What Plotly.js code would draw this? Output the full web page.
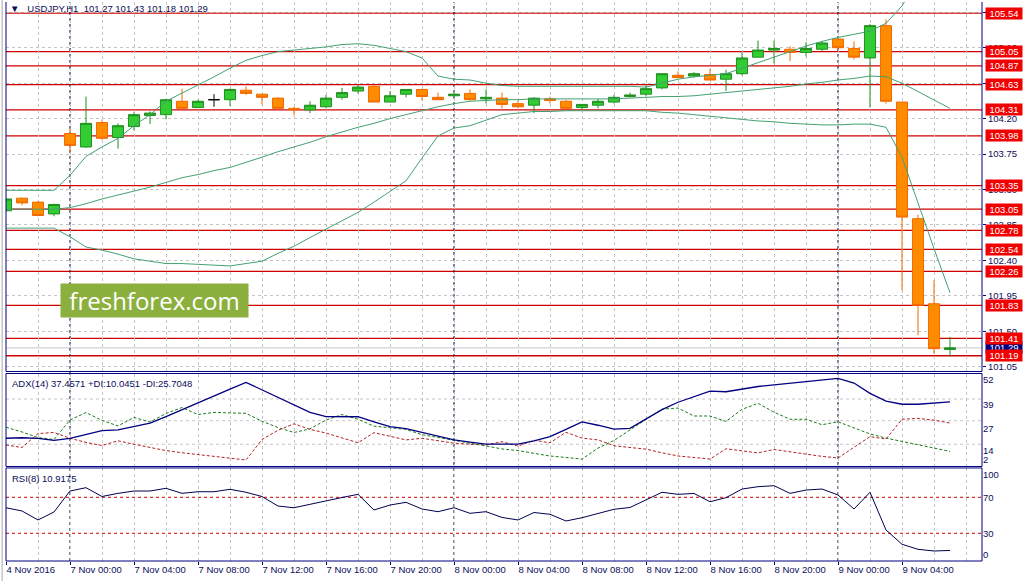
<!DOCTYPE html>
<html><head><meta charset="utf-8">
<script src="https://cdn.plot.ly/plotly-3.0.1.min.js"></script>
<style>html,body{margin:0;padding:0;background:#fff}#chart{width:1025px;height:581px}</style>
</head><body><div id="chart"></div>
<script>
// ---------- data ----------
const symbol = 'USDJPY,H1';
const tickIndex = [0,4,8,12,16,20,24,28,32,36,40,44,48,52,56];
const tickLabels = ['4 Nov 2016','7 Nov 00:00','7 Nov 04:00','7 Nov 08:00','7 Nov 12:00','7 Nov 16:00','7 Nov 20:00',
  '8 Nov 00:00','8 Nov 04:00','8 Nov 08:00','8 Nov 12:00','8 Nov 16:00','8 Nov 20:00','9 Nov 00:00','9 Nov 04:00'];
const daySeparators = [4, 28, 52];

const open = [103.03,103.19,103.14,102.99,104.01,103.84,104.15,103.96,104.10,104.24,
  104.25,104.42,104.34,104.44,104.44,104.56,104.51,104.46,104.33,104.31,
  104.35,104.47,104.55,104.61,104.41,104.51,104.57,104.47,104.49,104.52,
  104.45,104.46,104.39,104.37,104.45,104.42,104.34,104.37,104.41,104.48,
  104.51,104.59,104.75,104.74,104.76,104.70,104.77,104.98,105.07,105.08,
  105.04,105.08,105.21,105.09,104.97,105.38,104.41,102.93,101.85,101.27];
const high = [103.19,103.20,103.15,103.12,104.07,104.48,104.19,104.14,104.28,104.29,
  104.44,104.58,104.44,104.51,104.58,104.61,104.51,104.47,104.35,104.42,
  104.50,104.59,104.63,104.63,104.55,104.57,104.57,104.53,104.52,104.57,
  104.57,104.53,104.43,104.47,104.48,104.44,104.38,104.45,104.50,104.53,
  104.63,104.77,104.80,104.79,104.83,104.82,105.04,105.19,105.19,105.12,
  105.17,105.18,105.21,105.18,105.40,105.46,104.41,102.98,102.15,101.43];
const low = [103.02,103.10,102.96,102.96,103.77,103.83,103.93,103.82,104.05,104.13,
  104.19,104.33,104.34,104.35,104.36,104.50,104.38,104.31,104.24,104.27,
  104.33,104.44,104.52,104.41,104.41,104.47,104.43,104.44,104.49,104.43,
  104.39,104.33,104.33,104.27,104.39,104.31,104.32,104.33,104.39,104.47,
  104.48,104.57,104.71,104.72,104.69,104.55,104.75,104.98,104.90,104.93,
  104.99,105.06,105.07,104.95,104.34,104.39,102.02,101.45,101.21,101.18];
const close = [103.18,103.13,102.97,103.11,103.86,104.14,103.95,104.11,104.25,104.27,
  104.44,104.33,104.42,104.44,104.57,104.52,104.47,104.33,104.31,104.37,
  104.46,104.53,104.60,104.41,104.49,104.57,104.48,104.44,104.51,104.44,
  104.47,104.38,104.35,104.46,104.43,104.33,104.38,104.42,104.47,104.50,
  104.58,104.77,104.72,104.77,104.69,104.77,104.97,105.07,105.09,105.04,
  105.09,105.16,105.10,104.98,105.38,104.42,102.95,101.83,101.28,101.29];

const bbUpper = [103.29,103.29,103.29,103.29,103.48,103.72,103.84,103.95,104.11,104.25,
  104.42,104.52,104.63,104.73,104.84,104.94,105.00,105.05,105.07,105.09,
  105.11,105.14,105.15,105.13,105.09,105.05,104.97,104.74,104.70,104.69,
  104.65,104.62,104.61,104.61,104.61,104.61,104.61,104.61,104.61,104.61,
  104.60,104.65,104.70,104.73,104.75,104.77,104.84,104.91,104.98,105.05,
  105.12,105.18,105.23,105.27,105.31,105.41,105.63,105.96,106.33,106.67];
const bbMiddle = [103.05,103.05,103.05,103.05,103.07,103.12,103.18,103.23,103.28,103.33,
  103.39,103.45,103.49,103.54,103.58,103.64,103.71,103.78,103.84,103.90,
  103.97,104.03,104.09,104.14,104.20,104.25,104.30,104.35,104.39,104.42,
  104.43,104.44,104.44,104.45,104.45,104.45,104.45,104.45,104.45,104.46,
  104.47,104.48,104.48,104.49,104.51,104.53,104.55,104.57,104.59,104.61,
  104.64,104.66,104.69,104.71,104.74,104.73,104.65,104.54,104.44,104.33];
const bbLower = [102.81,102.81,102.81,102.81,102.70,102.57,102.53,102.48,102.42,102.39,
  102.36,102.36,102.35,102.34,102.33,102.36,102.39,102.49,102.58,102.69,
  102.80,102.90,103.01,103.14,103.27,103.41,103.70,103.98,104.08,104.11,
  104.18,104.25,104.27,104.29,104.29,104.30,104.30,104.30,104.30,104.30,
  104.30,104.28,104.27,104.25,104.23,104.21,104.19,104.17,104.16,104.14,
  104.13,104.12,104.12,104.13,104.13,104.09,103.71,103.12,102.55,101.99];

const adx = [17.3,17.6,17.2,16.1,17.3,19.4,21.5,21.9,23.8,25.7,
  29.3,33.2,37.1,40.6,44.5,48.2,44.1,39.9,35.7,31.6,
  29.3,29.2,29.2,26.4,23.7,22.6,20.5,18.5,16.4,15.2,
  14.1,14.1,14.1,15.9,18.2,22.2,26.3,24.5,22.4,22.8,
  27.9,33.1,37.2,40.4,43.3,43.0,44.5,45.9,46.8,47.6,
  48.4,49.4,50.4,47.8,42.1,37.8,36.1,36.1,36.8,37.4571];
const plusDI = [23.4,20.8,17.7,16.6,27.4,31.5,27.2,24.1,28.8,26.3,
  31.0,34.3,30.4,31.6,31.3,31.1,26.7,23.2,20.5,22.5,
  27.4,30.4,27.8,24.0,23.1,22.2,19.3,17.6,16.1,14.6,
  13.1,11.4,10.5,9.0,7.5,6.7,5.8,11.9,16.1,21.9,
  27.9,33.4,34.0,29.6,29.6,26.6,33.3,36.6,31.7,27.8,
  27.8,24.8,26.4,23.2,19.7,17.4,15.5,13.6,11.6,10.0451];
const minusDI = [13.6,12.2,19.9,20.5,17.3,15.0,13.3,15.9,14.0,12.2,
  10.5,9.3,8.2,7.2,6.2,5.3,16.6,21.7,25.3,22.2,
  20.2,17.4,14.8,20.4,18.2,16.4,17.3,15.8,14.6,14.0,
  13.6,15.4,13.0,16.2,14.8,20.6,17.4,16.4,13.2,12.2,
  11.3,9.3,7.5,6.7,5.8,11.5,10.3,9.2,11.1,9.7,
  8.6,7.3,6.4,12.1,18.2,16.9,27.8,28.3,27.3,25.7048];
const rsi = [58.4,54.8,44.8,53.7,77.0,80.7,70.9,74.4,77.0,77.0,
  80.0,74.4,76.2,76.2,78.9,75.6,70.9,60.3,58.4,62.2,
  66.7,69.8,73.3,55.9,61.4,64.4,57.0,54.0,58.4,52.2,
  54.0,47.6,44.8,53.1,51.1,43.7,47.3,52.0,56.7,58.7,
  67.0,75.6,73.3,74.3,65.1,69.6,79.2,81.8,82.9,74.4,
  78.1,79.2,72.6,57.0,75.6,33.7,17.8,12.2,10.3,10.9175];

const levels = [105.54,105.05,104.87,104.63,104.31,103.98,103.35,103.05,102.78,102.54,102.26,101.83,101.41,101.19];
const priceTicks = [101.05,101.50,101.95,102.40,102.85,103.30,103.75,104.20,104.65,105.10,105.55];
const adxGrid = [39, 27, 14];
const adxTickPos = [49.5, 35.7, 22.8, 10.3, 5.6];
const adxTickText = ['52','39','27','14','2'];
const rsiLevels = [70, 30];
const rsiTickPos = [94.8, 70, 30, 6.7];
const rsiTickText = ['100','70','30','0'];

// ---------- styles ----------
const NAVY = '#000080', TXT = '#0c0c5a', GRID = '#c4c4c4', FONT = 'Liberation Sans';
const idx = open.map((_, i) => i);
const last = idx.length - 1;
const dojiIdx = idx.filter(i => open[i] === close[i]);
const bodyIdx = idx.filter(i => open[i] !== close[i]);
const pick = (arr, ids) => ids.map(i => arr[i]);

const candle = (ids, incLine, decLine) => ({
  type: 'candlestick', xaxis: 'x', yaxis: 'y',
  x: pick(idx, ids), open: pick(open, ids), high: pick(high, ids), low: pick(low, ids), close: pick(close, ids),
  increasing: {line: {color: incLine, width: 1}, fillcolor: '#33cc33'},
  decreasing: {line: {color: decLine, width: 1}, fillcolor: '#ff8c00'},
  whiskerwidth: 0, hoverinfo: 'skip', showlegend: false
});
const line = (y, yaxis, color, width, dash) => ({
  type: 'scatter', mode: 'lines', x: idx, y: y, xaxis: 'x', yaxis: yaxis,
  line: {color: color, width: width, dash: dash || 'solid'}, hoverinfo: 'skip', showlegend: false
});

const BB = '#44a072';
const traces = [
  line(bbUpper, 'y', BB, 1), line(bbMiddle, 'y', BB, 1), line(bbLower, 'y', BB, 1),
  candle(bodyIdx, '#1f8f1f', '#f26a00'),
  candle(dojiIdx, '#000000', '#000000'),
  line(minusDI, 'y2', '#b22222', 1, '3px,2px'),
  line(plusDI, 'y2', '#1e7b1e', 1, '3px,2px'),
  line(adx, 'y2', NAVY, 1.3),
  line(rsi, 'y3', '#000050', 1)
];

// ---------- shapes ----------
const shapes = [];
levels.forEach(v => shapes.push({type: 'line', xref: 'paper', x0: 0, x1: 1, yref: 'y', y0: v, y1: v,
  line: {color: '#d10000', width: 1.3}, layer: 'below'}));
shapes.push({type: 'line', xref: 'paper', x0: 0, x1: 1, yref: 'y', y0: close[last], y1: close[last],
  line: {color: '#c8c8c8', width: 1}, layer: 'below'});
adxGrid.forEach(v => shapes.push({type: 'line', xref: 'paper', x0: 0, x1: 1, yref: 'y2', y0: v, y1: v,
  line: {color: GRID, width: 1, dash: '3px,3px'}, layer: 'below'}));
rsiLevels.forEach(v => shapes.push({type: 'line', xref: 'paper', x0: 0, x1: 1, yref: 'y3', y0: v, y1: v,
  line: {color: '#cc0000', width: 1, dash: '3px,3px'}, layer: 'below'}));
daySeparators.forEach(i => shapes.push({type: 'line', xref: 'x', x0: i, x1: i, yref: 'paper', y0: 0, y1: 1,
  line: {color: '#000040', width: 1, dash: '3px,3px'}, layer: 'below'}));
// panel frames
['y2', 'y3'].forEach(a => shapes.push({type: 'rect', xref: 'paper', x0: 0, x1: 1, yref: a + ' domain', y0: 0, y1: 1,
  line: {color: NAVY, width: 1}, fillcolor: 'rgba(0,0,0,0)'}));
shapes.push({type: 'line', xref: 'paper', x0: 0, x1: 1, yref: 'y domain', y0: 0, y1: 0, line: {color: NAVY, width: 1}});
shapes.push({type: 'line', xref: 'paper', x0: 0, x1: 0, yref: 'y domain', y0: 0, y1: 1, line: {color: NAVY, width: 1}});
shapes.push({type: 'line', xref: 'paper', x0: 1, x1: 1, yref: 'y domain', y0: 0, y1: 1, line: {color: NAVY, width: 1}});
shapes.push({type: 'line', xref: 'paper', x0: -0.004, x1: -0.004, yref: 'paper', y0: -0.04, y1: 1.01, line: {color: '#a8a8a8', width: 1}});

// ---------- annotations ----------
const annotations = [];
const sp = '\u00a0';
annotations.push({xref: 'paper', yref: 'paper', x: 0, y: 1, xanchor: 'left', yanchor: 'top', xshift: 2, yshift: 1,
  showarrow: false, font: {family: FONT, size: 9.5, color: TXT},
  text: '\u25BC' + sp + sp + sp + symbol + sp + sp + [open[last], high[last], low[last], close[last]].map(v => v.toFixed(2)).join(' ')});
annotations.push({xref: 'paper', yref: 'y2 domain', x: 0, y: 1, xanchor: 'left', yanchor: 'top', xshift: 4, yshift: -2,
  showarrow: false, font: {family: FONT, size: 9.5, color: TXT},
  text: 'ADX(14) ' + adx[last].toFixed(4) + ' +DI:' + plusDI[last].toFixed(4) + ' -DI:' + minusDI[last].toFixed(4)});
annotations.push({xref: 'paper', yref: 'y3 domain', x: 0, y: 1, xanchor: 'left', yanchor: 'top', xshift: 4, yshift: -3,
  showarrow: false, font: {family: FONT, size: 9.5, color: TXT},
  text: 'RSI(8) ' + rsi[last].toFixed(4)});
annotations.push({xref: 'paper', yref: 'y', x: 1, y: close[last], xanchor: 'left', xshift: 3,
  showarrow: false, bgcolor: NAVY, borderpad: 0, width: 36, height: 11,
  font: {family: FONT, size: 9.5, color: '#ffffff'}, text: close[last].toFixed(2)});
levels.forEach(v => annotations.push({xref: 'paper', yref: 'y', x: 1, y: v, xanchor: 'left', xshift: 3,
  showarrow: false, bgcolor: '#f00000', borderpad: 0, width: 36, height: 11,
  font: {family: FONT, size: 9.5, color: '#ffffff'}, text: v.toFixed(2)}));
annotations.push({xref: 'paper', yref: 'y domain', x: 0.0553, y: 0.192, xanchor: 'left', yanchor: 'middle',
  showarrow: false, bgcolor: '#8cb03e', borderpad: 0, width: 187, height: 33,
  font: {family: 'Open Sans', size: 24, color: '#ffffff'}, text: 'freshforex.com'});

// price tick labels fully covered by a level box are left blank (they are hidden in the reference)
const priceTickText = priceTicks.map(v => levels.some(l => Math.abs(l - v) < 0.03) ? '' : v.toFixed(2));

// ---------- layout ----------
const yCommon = {side: 'right', anchor: 'x', fixedrange: true, zeroline: false, showline: false,
  tickfont: {family: FONT, size: 9.5, color: TXT}, ticks: 'outside', ticklen: 3, tickcolor: NAVY};
const layout = {
  width: 1025, height: 581,
  margin: {l: 6, r: 43, t: 2, b: 20},
  paper_bgcolor: '#ffffff', plot_bgcolor: '#ffffff',
  showlegend: false, hovermode: false,
  boxgap: 0.31, boxgroupgap: 0,
  font: {family: FONT, size: 9.5, color: TXT},
  xaxis: {anchor: 'y3', range: [0, 61], rangeslider: {visible: false}, fixedrange: true,
    tickmode: 'array', tickvals: tickIndex, ticktext: tickLabels, ticklabelposition: 'outside right',
    ticks: 'outside', ticklen: 3, tickcolor: NAVY, tickfont: {family: FONT, size: 9.5, color: TXT},
    showgrid: true, gridcolor: GRID, griddash: '3px,3px', gridwidth: 1,
    minor: {tickmode: 'linear', tick0: 0, dtick: 2, showgrid: true, gridcolor: GRID, griddash: '3px,3px', ticks: ''},
    zeroline: false, showline: false},
  yaxis: Object.assign({}, yCommon, {domain: [0.339, 1], range: [100.99, 105.68],
    tickmode: 'array', tickvals: priceTicks, ticktext: priceTickText,
    showgrid: true, gridcolor: GRID, griddash: '3px,3px'}),
  yaxis2: Object.assign({}, yCommon, {domain: [0.169, 0.3354], range: [1.69, 53.08],
    tickmode: 'array', tickvals: adxTickPos, ticktext: adxTickText, showgrid: false, ticks: ''}),
  yaxis3: Object.assign({}, yCommon, {domain: [0, 0.1664], range: [-0.8, 102.6],
    tickmode: 'array', tickvals: rsiTickPos, ticktext: rsiTickText, showgrid: false, ticks: ''}),
  shapes: shapes, annotations: annotations
};
Plotly.newPlot('chart', traces, layout, {staticPlot: true, displayModeBar: false});
</script></body></html>
